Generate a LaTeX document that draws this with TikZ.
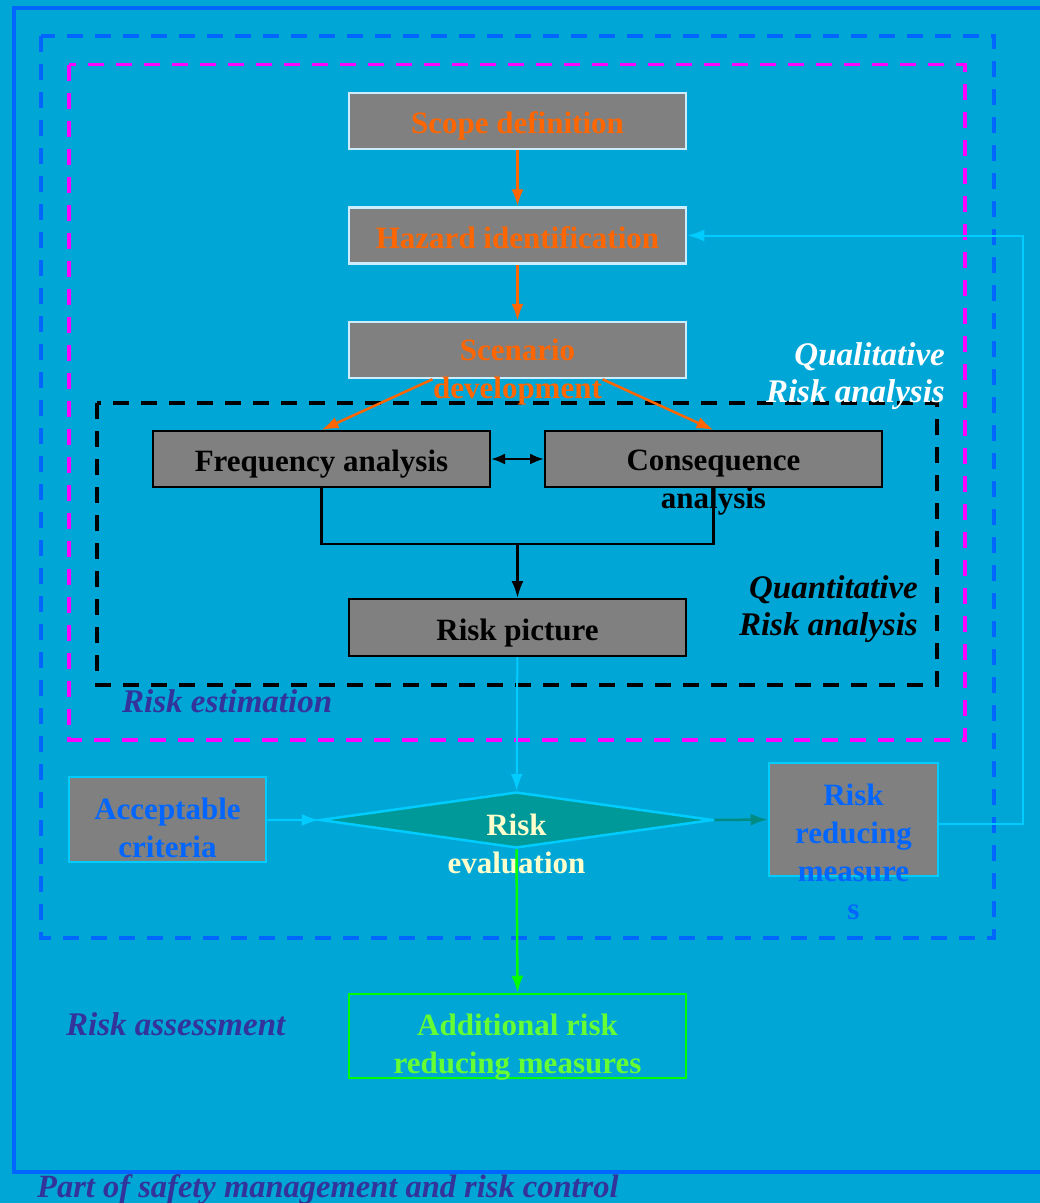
\documentclass[tikz,border=0pt]{standalone}
\usepackage{fontspec}
\setmainfont{Liberation Serif}
\usepackage{tikz}
\usetikzlibrary{shapes.geometric, arrows.meta, positioning}
\definecolor{sea}{RGB}{0,166,214}
\definecolor{frameblue}{RGB}{0,102,255}
\definecolor{pink}{RGB}{255,0,255}
\definecolor{boxgray}{RGB}{128,128,128}
\definecolor{edge}{RGB}{204,236,255}
\definecolor{orng}{RGB}{255,102,0}
\definecolor{cyanline}{RGB}{0,204,255}
\definecolor{tealfill}{RGB}{0,153,153}
\definecolor{tealarr}{RGB}{0,140,130}
\definecolor{cream}{RGB}{255,255,204}
\definecolor{lime}{RGB}{0,255,0}
\definecolor{limetext}{RGB}{102,255,51}
\definecolor{purple}{RGB}{51,51,153}

\begin{document}
\begin{tikzpicture}[x=1pt, y=-1pt,
  every node/.style={font=\bfseries\fontsize{31}{38}\selectfont, inner sep=0pt},
  b/.style={rectangle, fill=boxgray, minimum width=337pt, minimum height=56pt, align=center},
  one/.style={text height=25pt, text depth=0pt},
  qb/.style={b, draw=edge, line width=2.5pt, text=orng},
  nb/.style={b, draw=black, line width=2pt, text=black},
  sb/.style={b, draw=cyanline, line width=2.5pt},
  lab/.style={font=\bfseries\itshape\fontsize{33}{37}\selectfont, align=right},
  frm/.style={line width=3.5pt, dash pattern=on 16pt off 12pt},
  tip/.style={-{Latex[length=17pt,width=12pt]}},
  oarr/.style={tip, line width=2.5pt, draw=orng},
  barr/.style={tip, line width=2.5pt, draw=black},
  carr/.style={tip, line width=2pt, draw=cyanline},
]
\useasboundingbox (0,0) rectangle (1040,1203);
\fill[sea] (0,0) rectangle (1040,1203);
\draw[frameblue, line width=4pt] (1040,8) -- (14,8) -- (14,1171.5) -- (1040,1171.5);
\draw[frm, frameblue] (41,36) rectangle (994,938);
\draw[frm, pink] (69,64.5) rectangle (965,740);
\draw[frm, black, line width=4pt] (97,403) rectangle (937,685);

\node[qb, one] at (517.5,121) (scope) {Scope definition};
\node[qb, one, below=56pt of scope] (hazard) {Hazard identification};
\node[qb, below=56pt of hazard] (scen) {};
\node[text=orng, align=center] at ([yshift=-22pt]scen.center) (scentxt) {Scenario\\development};

\node[nb, one] at (321.5,459) (freq) {Frequency analysis};
\node[nb] at (713.5,459) (cons) {};
\node[align=center] at (713.5,482.5) (constxt) {Consequence\\analysis};
\node[nb, one, minimum height=57pt] at (517.5,627.5) (riskpic) {Risk picture};

\node[lab, text=white, anchor=east] at (945,376.5) (quali) {Qualitative\\Risk analysis};
\node[lab, anchor=east] at (918,609) (quanti) {Quantitative\\Risk analysis};
\node[lab, text=purple, anchor=base west] at (122,712) (estim) {Risk estimation};
\node[lab, text=purple, anchor=base west] at (66,1035) (assess) {Risk assessment};
\node[lab, text=purple, anchor=base west, font=\bfseries\itshape\fontsize{32.5}{37}\selectfont] at (37,1197) (part) {Part of safety management and risk control};

\node[sb, minimum width=197pt, minimum height=85pt] at (167.5,819.5) (accept) {};
\node[text=frameblue, align=center] at (167.5,827.5) (accepttxt) {Acceptable\\criteria};
\node[diamond, draw=cyanline, fill=tealfill, line width=2.5pt,
      minimum width=393pt, minimum height=56pt] at (516.5,820) (riskev) {};
\node[text=cream, align=center] at (516.5,843.5) (riskevtxt) {Risk\\evaluation};
\node[sb, minimum width=169pt, minimum height=113pt] at (853.5,819.5) (reduce) {};
\node[text=frameblue, align=center] at (853.5,852) (reducetxt) {Risk\\reducing\\measure\\s};
\node[b, fill=none, draw=lime, line width=2.5pt, minimum height=84pt] at (517.5,1036) (addit) {};
\node[text=limetext, align=center] at (517.5,1047) (addittxt) {Additional risk\\reducing measures};

\draw[oarr] (scope) -- (hazard);
\draw[oarr] (hazard) -- (scen);
\draw[oarr] ([xshift=-85pt]scen.south) -- (freq.north);
\draw[oarr] ([xshift=85pt]scen.south) -- (cons.north);
\draw[{Latex[length=14pt,width=11pt]}-{Latex[length=14pt,width=11pt]}, line width=2.5pt] (freq) -- (cons);
\coordinate (fork) at (517.5,544);
\draw[line width=2.5pt] (freq.south) |- (fork) -| (cons.south);
\draw[barr] (fork) -- (riskpic);
\draw[carr] (riskpic) -- (riskev);
\draw[carr] (accept) -- (riskev.west);
\draw[tip, line width=2.5pt, draw=tealarr] (riskev.east) -- (reduce.west);
\draw[carr] ([yshift=-4.5pt]reduce.east) -- ++(84,0) |- (hazard.east);
\draw[tip, line width=2.5pt, draw=lime] (riskev.south) -- (addit.north);
\end{tikzpicture}
\end{document}
